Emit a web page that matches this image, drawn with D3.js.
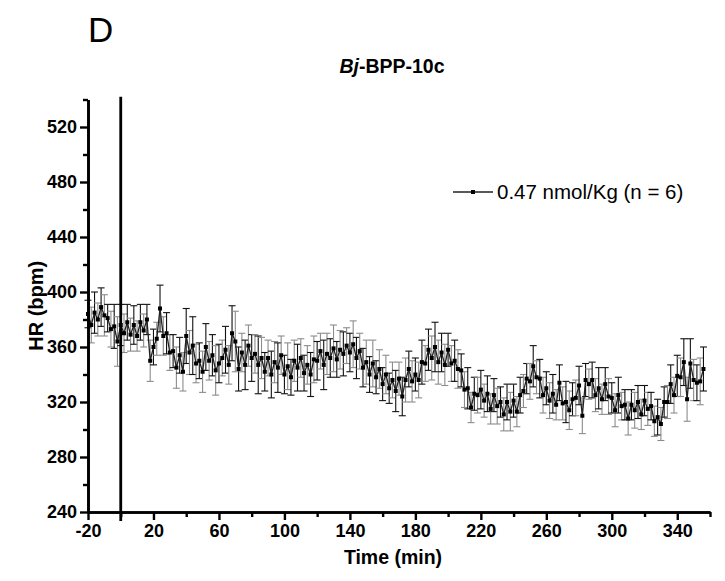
<!DOCTYPE html>
<html>
<head>
<meta charset="utf-8">
<script src="https://cdn.jsdelivr.net/npm/d3@7"></script>
<style>
  body { margin: 0; background: #fff; }
  text { font-family: Arial, "Liberation Sans", sans-serif; }
</style>
</head>
<body>
<div id="chart"></div>
<script>
var svgWidth = 725;
var svgHeight = 581;

var margin = { top: 99.5, right: 15, bottom: 69, left: 88 };
var width = svgWidth - margin.left - margin.right;
var height = svgHeight - margin.top - margin.bottom;

// HR means (bpm), one every 2 min starting at -20 min
var hrMean = [
  384, 376, 385, 380, 389, 383, 381, 373, 375, 364,
  376, 370, 378, 369, 376, 368, 378, 372, 380, 350,
  360, 366, 388, 368, 370, 356, 357, 345, 354, 342,
  368, 356, 361, 348, 350, 342, 360, 350, 354, 343,
  348, 352, 358, 347, 370, 364, 344, 356, 347, 361,
  352, 355, 347, 352, 342, 352, 340, 349, 345, 354,
  340, 346, 338, 350, 345, 352, 341, 347, 340, 351,
  350, 357, 347, 355, 352, 359, 351, 358, 355, 361,
  356, 362, 352, 357, 345, 349, 340, 348, 338, 344,
  333, 340, 330, 336, 328, 337, 324, 336, 344, 335,
  340, 336, 349, 348, 358, 352, 360, 349, 356, 347,
  358, 348, 350, 344, 343, 329, 330, 316, 326, 325,
  329, 321, 326, 315, 325, 317, 320, 311, 320, 313,
  321, 313, 325, 328, 337, 335, 346, 338, 337, 325,
  330, 321, 326, 318, 334, 319, 320, 314, 322, 323,
  332, 310, 336, 333, 336, 325, 330, 322, 333, 324,
  323, 314, 325, 317, 318, 308, 318, 314, 320, 311,
  321, 315, 317, 306, 309, 304, 320, 320, 333, 325,
  339, 338, 349, 322, 348, 336, 334, 335, 344
];

// SEM for each point
var hrErr = [
  10, 13, 15, 12, 14, 15, 10, 13, 16, 18,
  15, 14, 13, 12, 14, 11, 13, 12, 11, 15,
  13, 12, 17, 14, 15, 13, 12, 15, 13, 14,
  20, 16, 21, 14, 13, 15, 17, 14, 15, 18,
  14, 13, 17, 14, 20, 22, 16, 14, 18, 15,
  17, 14, 21, 15, 14, 13, 17, 15, 18, 14,
  14, 17, 13, 15, 17, 14, 13, 14, 16, 17,
  14, 13, 18, 15, 14, 17, 13, 14, 16, 13,
  14, 17, 15, 13, 14, 16, 13, 17, 12, 14,
  12, 14, 11, 13, 15, 12, 14, 16, 13, 15,
  12, 13, 16, 13, 15, 16, 18, 16, 14, 15,
  12, 13, 15, 14, 12, 13, 15, 11, 12, 13,
  14, 12, 13, 11, 12, 13, 11, 12, 13, 14,
  12, 11, 13, 12, 11, 13, 15, 12, 14, 13,
  12, 13, 14, 11, 13, 12, 15, 14, 12, 13,
  14, 13, 12, 11, 13, 12, 15, 11, 12, 13,
  11, 12, 13, 10, 11, 12, 11, 13, 12, 11,
  11, 12, 10, 11, 13, 12, 11, 12, 14, 13,
  15, 14, 17, 16, 18, 15, 13, 17, 16
];

var startTime = -20;
var stepTime = 2;
var xTicksMajor = [-20, 20, 60, 100, 140, 180, 220, 260, 300, 340];
var xTicksMinor = [0, 40, 80, 120, 160, 200, 240, 280, 320, 360];
var yTicksMajor = [240, 280, 320, 360, 400, 440, 480, 520];
var yTicksMinor = [260, 300, 340, 380, 420, 460, 500, 540];
var injectionTime = 0;
var legendLabel = "0.47 nmol/Kg (n = 6)";

var hrData = hrMean.map(function(v, i) {
  return { time: startTime + i * stepTime, hr: v, err: hrErr[i], idx: i };
});

var svg = d3.select("#chart")
  .append("svg")
  .attr("width", svgWidth)
  .attr("height", svgHeight);

var chartGroup = svg.append("g")
  .attr("transform", `translate(${margin.left}, ${margin.top})`);

var xScale = d3.scaleLinear().domain([-20, 360]).range([0, width]);
var yScale = d3.scaleLinear().domain([240, 540]).range([height, 0]);

// error bars, alternating black / grey like the original
var bars = chartGroup.append("g").selectAll("g")
  .data(hrData)
  .enter()
  .append("g")
  .attr("stroke", d => d.idx % 2 ? "#8c8c8c" : "#111")
  .attr("stroke-width", 1.1);

bars.append("line")
  .attr("x1", d => xScale(d.time))
  .attr("x2", d => xScale(d.time))
  .attr("y1", d => yScale(d.hr - d.err))
  .attr("y2", d => yScale(d.hr + d.err));
bars.append("line")
  .attr("x1", d => xScale(d.time) - 3.5)
  .attr("x2", d => xScale(d.time) + 3.5)
  .attr("y1", d => yScale(d.hr + d.err))
  .attr("y2", d => yScale(d.hr + d.err));
bars.append("line")
  .attr("x1", d => xScale(d.time) - 3.5)
  .attr("x2", d => xScale(d.time) + 3.5)
  .attr("y1", d => yScale(d.hr - d.err))
  .attr("y2", d => yScale(d.hr - d.err));

// mean line
var line = d3.line()
  .x(d => xScale(d.time))
  .y(d => yScale(d.hr));

chartGroup.append("path")
  .datum(hrData)
  .attr("fill", "none")
  .attr("stroke", "#222")
  .attr("stroke-width", 1.3)
  .attr("d", line);

chartGroup.selectAll("rect.pt")
  .data(hrData)
  .enter()
  .append("rect")
  .attr("class", "pt")
  .attr("x", d => xScale(d.time) - 2)
  .attr("y", d => yScale(d.hr) - 2)
  .attr("width", 4)
  .attr("height", 4)
  .attr("fill", "#000");

// axes
function styleAxis(g) {
  g.select(".domain").attr("stroke-width", 2.6).attr("stroke", "#000");
  g.selectAll(".tick line").attr("stroke-width", 2.4).attr("stroke", "#000");
  g.selectAll("text")
    .style("font-size", "18px")
    .style("font-weight", "bold")
    .attr("fill", "#000");
}

var plainFmt = d => String(d);
var bottomMinor = d3.axisBottom(xScale).tickValues(xTicksMinor).tickSize(5).tickFormat("").tickSizeOuter(0);
var bottomAxis = d3.axisBottom(xScale).tickValues(xTicksMajor).tickSize(8).tickSizeOuter(0).tickPadding(4).tickFormat(plainFmt);
var leftMinor = d3.axisLeft(yScale).tickValues(yTicksMinor).tickSize(5).tickFormat("").tickSizeOuter(0);
var leftAxis = d3.axisLeft(yScale).tickValues(yTicksMajor).tickSize(8).tickSizeOuter(0).tickPadding(3).tickFormat(plainFmt);

chartGroup.append("g").attr("transform", `translate(0, ${height})`).call(bottomMinor).call(styleAxis);
chartGroup.append("g").attr("transform", `translate(0, ${height})`).call(bottomAxis).call(styleAxis);
chartGroup.append("g").call(leftMinor).call(styleAxis);
chartGroup.append("g").call(leftAxis).call(styleAxis);

// injection marker
chartGroup.append("line")
  .attr("x1", xScale(injectionTime))
  .attr("x2", xScale(injectionTime))
  .attr("y1", yScale(542))
  .attr("y2", height + 9)
  .attr("stroke", "#000")
  .attr("stroke-width", 2.8);

// legend
var legend = svg.append("g").attr("transform", "translate(453, 192)");
legend.append("line")
  .attr("x1", 0).attr("x2", 40)
  .attr("stroke", "#222").attr("stroke-width", 1.3);
legend.append("rect")
  .attr("x", 18).attr("y", -2).attr("width", 4).attr("height", 4)
  .attr("fill", "#000");
legend.append("text")
  .attr("x", 44).attr("y", 7)
  .style("font-size", "20.5px")
  .text(legendLabel);

// titles
svg.append("text")
  .attr("x", 88).attr("y", 42)
  .style("font-size", "35px")
  .text("D");

var title = svg.append("text")
  .attr("x", 392).attr("y", 73)
  .attr("text-anchor", "middle")
  .style("font-size", "19.5px")
  .style("font-weight", "bold");
title.append("tspan").style("font-style", "italic").text("Bj");
title.append("tspan").text("-BPP-10c");

svg.append("text")
  .attr("transform", `translate(43, ${margin.top + height / 2}) rotate(-90)`)
  .attr("text-anchor", "middle")
  .style("font-size", "20px")
  .style("font-weight", "bold")
  .text("HR (bpm)");

svg.append("text")
  .attr("x", 393).attr("y", 564)
  .attr("text-anchor", "middle")
  .style("font-size", "19.5px")
  .style("font-weight", "bold")
  .text("Time (min)");
</script>
</body>
</html>
